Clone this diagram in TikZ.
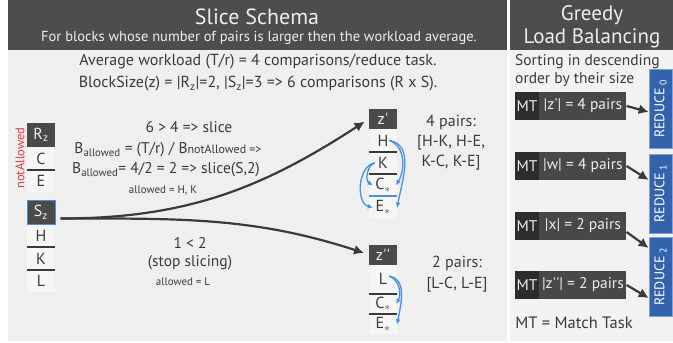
\documentclass[tikz,border=0pt]{standalone}
\usepackage{fontspec}
\setmainfont{PT Sans}
\usetikzlibrary{arrows.meta, positioning}
\definecolor{hdrgray}{HTML}{4D4D4D}
\definecolor{panelgray}{HTML}{EFEFEF}
\definecolor{sidegray}{HTML}{F2F2F2}
\definecolor{listgray}{HTML}{F6F6F6}
\definecolor{blkgray}{HTML}{4A4A4A}
\definecolor{txtgray}{HTML}{3A3A3A}
\definecolor{lighttxt}{HTML}{EEEEEE}
\definecolor{mtdark}{HTML}{2C2C2C}
\definecolor{mtgray}{HTML}{484848}
\definecolor{redblue}{HTML}{3463AE}
\definecolor{pairblue}{HTML}{4A90E2}
\definecolor{notred}{HTML}{E53935}
\tikzstyle{head} = [rectangle, minimum width=28pt, minimum height=24pt, inner sep=0pt, fill=blkgray, text=lighttxt, font=\fontsize{16}{18}\selectfont]
\tikzstyle{item} = [rectangle, minimum width=28pt, minimum height=22pt, inner sep=0pt, fill=listgray, text=txtgray, font=\fontsize{16}{18}\selectfont]
\tikzstyle{rule} = [draw=txtgray, line width=2pt]
\tikzstyle{note} = [inner sep=0pt, text=txtgray, font=\fontsize{15.5}{17}\selectfont]
\tikzstyle{smallnote} = [inner sep=0pt, text=txtgray, font=\fontsize{11}{12}\selectfont]
\tikzstyle{line} = [draw=txtgray, line width=2.2pt, -{Latex[length=10pt,width=10pt]}]
\tikzstyle{pairline} = [draw=pairblue, line width=1.3pt, -{Latex[length=5pt,width=5pt]}]
\tikzstyle{mtlab} = [rectangle, minimum width=24pt, minimum height=28pt, inner sep=0pt, fill=mtdark, text=lighttxt, font=\fontsize{15.5}{17}\selectfont]
\tikzstyle{mtbox} = [rectangle, minimum width=87pt, minimum height=28pt, inner sep=0pt, fill=mtgray, text=lighttxt, font=\fontsize{15.5}{17}\selectfont]
\tikzstyle{reduce} = [rectangle, rotate=90, minimum width=79pt, minimum height=23pt, inner sep=0pt, fill=redblue, draw=redblue!60!white, line width=0.6pt, text=white, font=\fontsize{14}{16}\selectfont]
\begin{document}
\begin{tikzpicture}[x=1pt, y=-1pt]
\useasboundingbox (0,0) rectangle (673,343);

% Panels
\fill[white] (0,0) rectangle (673,343);
\fill[hdrgray] (8,0) rectangle (507,50);
\fill[panelgray] (8,50) rectangle (507,341);
\fill[hdrgray] (510,0) rectangle (673,50);
\fill[sidegray] (510,50) rectangle (673,341);

% Titles
\node (title) [text=lighttxt, font=\fontsize{22}{24}\selectfont] at (257,17) {Slice Schema};
\node (subtitle) [text=lighttxt, font=\fontsize{14.5}{16}\selectfont] at (259,38) {For blocks whose number of pairs is larger then the workload average.};
\node (greedy) [text=lighttxt, font=\fontsize{21}{23}\selectfont] at (592,15) {Greedy};
\node (loadbal) [text=lighttxt, font=\fontsize{21}{23}\selectfont] at (592,38) {Load Balancing};

% Workload
\node (avg) [note, font=\fontsize{16}{18}\selectfont] at (258,62) {Average workload (T/r) = 4 comparisons/reduce task.};
\node (bsize) [note, font=\fontsize{16}{18}\selectfont] at (258,84) {BlockSize(z) = |R\textsubscript{z}|=2, |S\textsubscript{z}|=3 => 6 comparisons (R x S).};

% Blocks
\node (notallow) [rotate=90, text=notred, font=\fontsize{12.5}{14}\selectfont] at (20,158) {notAllowed};
\node (rz) [head] at (41,135) {R\textsubscript{z}};
\node (rzC) [item, below=0pt of rz] {C};
\node (rzE) [item, below=0pt of rzC] {E};
\node (sz) [head, draw=pairblue, line width=1pt] at (41,212.5) {S\textsubscript{z}};
\node (szH) [item, below=0pt of sz] {H};
\node (szK) [item, below=0pt of szH] {K};
\node (szL) [item, below=0pt of szK] {L};

\node (zp) [head, minimum height=20pt] at (383,119) {z\textquotesingle};
\node (zpH) [item, below=0pt of zp] {H};
\node (zpK) [item, below=0pt of zpH] {K};
\node (zpC) [item, below=0pt of zpK] {C$_\ast$};
\node (zpE) [item, below=0pt of zpC] {E$_\ast$};

\node (zpp) [head, minimum height=20pt] at (383,254.5) {z\textquotesingle\textquotesingle};
\node (zppL) [item, below=0pt of zpp, minimum height=28.5pt] {\raisebox{-4pt}{L}};
\node (zppC) [item, below=0pt of zppL, minimum height=20pt] {C$_\ast$};
\node (zppE) [item, below=0pt of zppC, minimum height=20pt] {E$_\ast$};

\draw[rule] (rzC.south west) -- (rzC.south east);
\draw[rule] (szH.south west) -- (szH.south east);
\draw[rule] (szK.south west) -- (szK.south east);
\draw[rule] (zpH.south west) -- (zpH.south east);
\draw[rule] (zpK.south west) -- (zpK.south east);
\draw[rule, draw=pairblue] (zpC.south west) -- (zpC.south east);
\draw[rule] (zppL.south west) -- (zppL.south east);
\draw[rule] (zppC.south west) -- (zppC.south east);

% Slice notes
\node (cmpslice) [note] at (189,127) {6 > 4 => slice};
\node (ballow) [note] at (168,150) {B\textsubscript{allowed} = (T/r) / B{\fontsize{12}{13}\selectfont notAllowed =>}};
\node (ballowtwo) [note] at (166,170) {B\textsubscript{allowed}= 4/2 = 2 => slice(S,2)};
\node (allowhk) [smallnote] at (163,190) {allowed = H, K};
\node (cmpstop) [note] at (190,243) {1 < 2};
\node (stopslice) [note] at (190,263) {(stop slicing)};
\node (allowl) [smallnote] at (183,282) {allowed = L};

\node (zppairs) [note, align=center, font=\fontsize{16}{20}\selectfont] at (451,143) {4 pairs:\\{}[H-K, H-E,\\K-C, K-E]};
\node (zpppairs) [note, align=center, font=\fontsize{16}{21}\selectfont] at (457,274.5) {2 pairs:\\{}[L-C, L-E]};

% Greedy side
\node (sortone) [note, anchor=west] at (515,62) {Sorting in descending};
\node (sorttwo) [note, anchor=west] at (515,80) {order by their size};

\node (mtzpl) [mtlab] at (527,106) {MT};
\node (mtzp) [mtbox, right=0pt of mtzpl] {|z\textquotesingle| = 4 pairs};
\node (mtwl) [mtlab] at (527,166) {MT};
\node (mtw) [mtbox, right=0pt of mtwl] {|w| = 4 pairs};
\node (mtxl) [mtlab] at (527,226) {MT};
\node (mtx) [mtbox, right=0pt of mtxl] {|x| = 2 pairs};
\node (mtzppl) [mtlab] at (527,285) {MT};
\node (mtzpp) [mtbox, right=0pt of mtzppl] {|z\textquotesingle\textquotesingle| = 2 pairs};
\node (mtdef) [note, font=\fontsize{16.5}{18}\selectfont] at (574,323) {MT = Match Task};

\node (red0) [reduce] at (660.5,109) {REDUCE\,\textsubscript{0}};
\node (red1) [reduce] at (660.5,193.5) {REDUCE\,\textsubscript{1}};
\node (red2) [reduce] at (660.5,277) {REDUCE\,\textsubscript{2}};

% Connections
\draw [line, shorten >=5pt] ([xshift=5pt,yshift=-6pt]sz.east) to[out=0, in=213] (zp.west);
\draw [line, shorten >=5pt] ([xshift=5pt,yshift=-6pt]sz.east) to[out=0, in=162] (zpp.west);

\draw [pairline] ([xshift=-8pt]zpH.east) to[out=-20, in=60] ([xshift=-1pt]zpC.east);
\draw [pairline] ([xshift=-8pt]zpH.east) to[out=-10, in=80] (zpE.east);
\draw [pairline] ([xshift=6pt]zpK.west) to[out=200, in=150] ([xshift=4pt]zpC.west);
\draw [pairline] ([xshift=6pt]zpK.west) to[out=190, in=165] ([xshift=4pt]zpE.west);
\draw [pairline] ([xshift=-8pt,yshift=3pt]zppL.east) to[out=-20, in=60] ([xshift=-1pt]zppC.east);
\draw [pairline] ([xshift=-8pt,yshift=3pt]zppL.east) to[out=-10, in=80] (zppE.east);

\draw [line] (mtzp.east) -- ([yshift=-3pt]red0.north);
\draw [line] (mtw.east) -- ([yshift=13.5pt]red1.north);
\draw [line] ([yshift=-6pt]mtx.east) -- ([yshift=29pt]red2.north);
\draw [line] (mtzpp.east) -- ([yshift=-21pt]red2.north);

\end{tikzpicture}
\end{document}
